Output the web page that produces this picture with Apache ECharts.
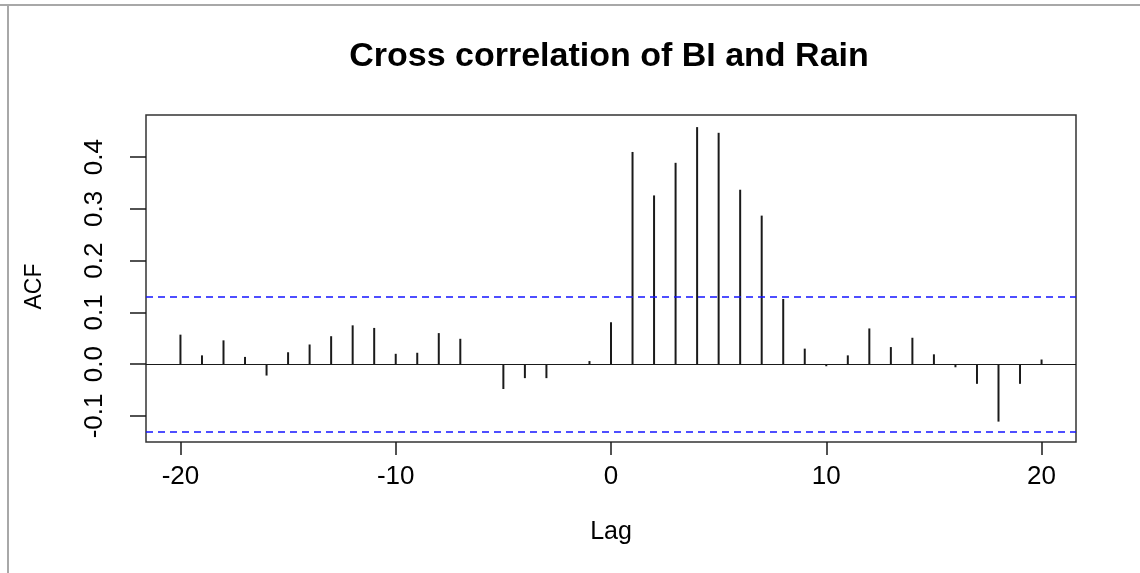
<!DOCTYPE html>
<html>
<head>
<meta charset="utf-8">
<script src="https://cdn.jsdelivr.net/npm/echarts@6/dist/echarts.min.js"></script>
<style>
html,body{margin:0;padding:0;background:#fff;}
#chart{width:1140px;height:573px;}
</style>
</head>
<body>
<div id="chart"></div>
<script>
// ---- data ----
const lags = [-20,-19,-18,-17,-16,-15,-14,-13,-12,-11,-10,-9,-8,-7,-6,-5,-4,-3,-2,-1,0,1,2,3,4,5,6,7,8,9,10,11,12,13,14,15,16,17,18,19,20];
const acf  = [0.057,0.017,0.046,0.014,-0.022,0.023,0.038,0.054,0.075,0.070,0.020,0.022,0.060,0.049,0.000,-0.048,-0.027,-0.027,0.000,0.006,
              0.081,0.410,0.326,0.389,0.458,0.447,0.337,0.287,0.126,0.030,-0.004,0.017,0.069,0.033,0.051,0.019,-0.006,-0.038,-0.111,-0.038,0.009];
const ciLimit = 0.127;
const xTicks = [-20,-10,0,10,20];
const yTicks = [-0.1,0.0,0.1,0.2,0.3,0.4];
const titleText = 'Cross correlation of BI and Rain';
const xName = 'Lag';
const yName = 'ACF';

// ---- layout (R-style 4% axis padding) ----
const W = 1140, H = 573;
const box = {left:146, right:64, top:115, bottom:131};
const boxW = W - box.left - box.right, boxH = H - box.top - box.bottom;

const xlo = Math.min(...lags), xhi = Math.max(...lags);
const xPad = (xhi - xlo) * 0.04;
const xMin = xlo - xPad, xMax = xhi + xPad;
const ylo = Math.min(...acf, -ciLimit), yhi = Math.max(...acf, ciLimit);
const yPad = (yhi - ylo) * 0.04;
const yMin = ylo - yPad, yMax = yhi + yPad;

const yT0 = yTicks[0], yT1 = yTicks[yTicks.length-1];
const xT0 = xTicks[0], xT1 = xTicks[xTicks.length-1];
const gridY = {
  left: box.left, right: box.right,
  top: box.top + (yMax - yT1) / (yMax - yMin) * boxH,
  bottom: box.bottom + (yT0 - yMin) / (yMax - yMin) * boxH
};
const gridX = {
  top: box.top, bottom: box.bottom,
  left: box.left + (xT0 - xMin) / (xMax - xMin) * boxW,
  right: box.right + (xMax - xT1) / (xMax - xMin) * boxW
};

const FONT = '"Liberation Sans", Arial, sans-serif';
const ink = '#1a1a1a';
const boxCenterX = box.left + boxW / 2;

const chart = echarts.init(document.getElementById('chart'), null, {renderer:'canvas'});
chart.setOption({
  animation: false,
  backgroundColor: '#ffffff',
  title: {
    text: titleText, left: boxCenterX - 7, textAlign: 'center', top: 35,
    textStyle: {fontFamily: FONT, fontSize: 34, fontWeight: 'bold', color: '#000'}
  },
  graphic: [
    {type:'line', shape:{x1:0,y1:5,x2:W,y2:5}, style:{stroke:'#a8a8a8', lineWidth:2}},
    {type:'line', shape:{x1:8,y1:5,x2:8,y2:H}, style:{stroke:'#a8a8a8', lineWidth:2}}
  ],
  grid: [
    {left:box.left, right:box.right, top:box.top, bottom:box.bottom, show:true, borderColor:'#333', borderWidth:1.5, backgroundColor:'transparent'},
    {left:gridY.left, right:gridY.right, top:gridY.top, bottom:gridY.bottom},
    {left:gridX.left, right:gridX.right, top:gridX.top, bottom:gridX.bottom}
  ],
  xAxis: [
    {gridIndex:0, type:'value', min:xMin, max:xMax, show:false},
    {gridIndex:1, type:'value', min:xMin, max:xMax, show:false},
    {gridIndex:2, type:'value', min:xT0, max:xT1, interval:10, position:'bottom',
     axisLine:{show:false, onZero:false}, splitLine:{show:false},
     axisTick:{show:true, length:13, lineStyle:{color:ink, width:1.5}},
     axisLabel:{show:true, margin:22, fontFamily:FONT, fontSize:26, color:'#000'},
     name:xName, nameLocation:'middle', nameGap:78,
     nameTextStyle:{fontFamily:FONT, fontSize:25, color:'#000'}}
  ],
  yAxis: [
    {gridIndex:0, type:'value', min:yMin, max:yMax, show:false},
    {gridIndex:1, type:'value', min:yT0, max:yT1, interval:0.1, position:'left',
     axisLine:{show:false, onZero:false}, splitLine:{show:false},
     axisTick:{show:true, length:16, lineStyle:{color:ink, width:1.5}},
     axisLabel:{show:true, rotate:90, margin:38, fontFamily:FONT, fontSize:26, color:'#000',
       formatter: v => (Math.abs(v) < 1e-9 ? 0 : v).toFixed(1)},
     name:yName, nameLocation:'middle', nameGap:100,
     nameTextStyle:{fontFamily:FONT, fontSize:23, color:'#000'}},
    {gridIndex:2, type:'value', min:yMin, max:yMax, show:false}
  ],
  series: [
    {
      type:'custom', xAxisIndex:0, yAxisIndex:0,
      data: lags.map((l,i) => [l, acf[i]]),
      renderItem: (params, api) => {
        const p0 = api.coord([api.value(0), 0]);
        const p1 = api.coord([api.value(0), api.value(1)]);
        return {type:'line', shape:{x1:p0[0], y1:p0[1], x2:p1[0], y2:p1[1]},
                style:{stroke:ink, lineWidth:2}};
      },
      markLine: {
        silent:true, symbol:'none', label:{show:false},
        data:[
          {yAxis:0, lineStyle:{color:ink, type:'solid', width:1.2}},
          {yAxis:ciLimit, lineStyle:{color:'#1515ff', type:[7,5], width:1.5}},
          {yAxis:-ciLimit, lineStyle:{color:'#1515ff', type:[7,5], width:1.5}}
        ]
      }
    }
  ]
});
</script>
</body>
</html>
